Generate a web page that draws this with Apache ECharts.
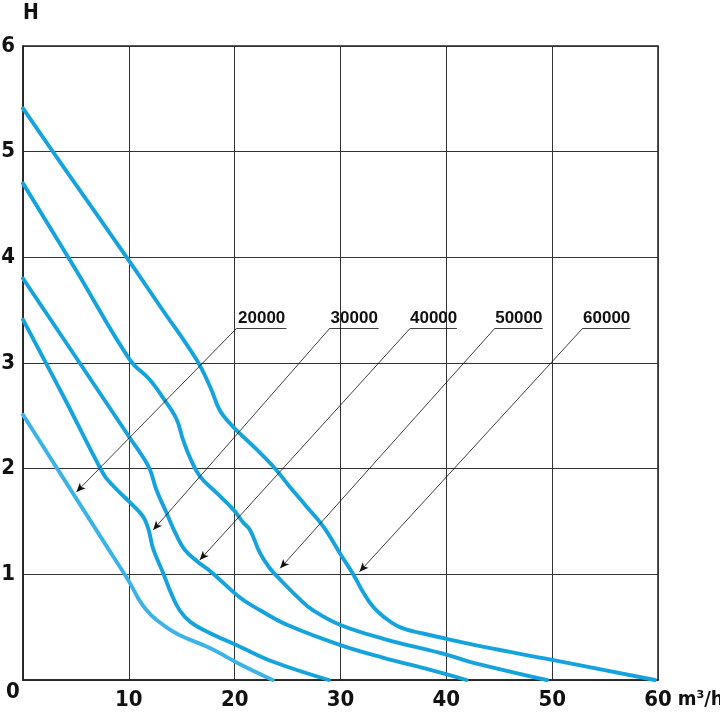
<!DOCTYPE html>
<html><head><meta charset="utf-8">
<script src="https://cdn.jsdelivr.net/npm/echarts@6/dist/echarts.min.js"></script>
<style>html,body{margin:0;padding:0;background:#fff}#c{width:720px;height:712px}</style>
</head><body><div id="c"></div>
<script>
// Axis ranges / ticks
const qMin = 0, qMax = 60, qStep = 10;
const hMin = 0, hMax = 6, hStep = 1;
const qUnit = 'm³/h';
const hName = 'H';

// Curve names
const curveNames = ['20000', '30000', '40000', '50000', '60000'];

// Curves: [Q (m³/h), H]
const curve20000 = [[0,2.51],[4,1.88],[8,1.25],[9.6,1.0],[10.2,0.9],[10.9,0.77],[11.6,0.67],[12.6,0.57],[14.5,0.44],[17.7,0.30],[20.5,0.15],[23.6,0]];
const curve30000 = [[0,3.41],[4,2.65],[7.6,1.95],[8.4,1.85],[9.3,1.76],[10.1,1.68],[11.0,1.59],[11.5,1.52],[11.9,1.41],[12.3,1.24],[13.25,1.01],[14.0,0.82],[14.8,0.66],[15.8,0.55],[17.35,0.46],[20.5,0.315],[23.7,0.17],[28.9,0]];
const curve40000 = [[0,3.80],[5.36,3.0],[10.1,2.29],[11.2,2.13],[12.0,1.99],[12.6,1.80],[13.57,1.58],[14.5,1.37],[15.3,1.23],[16.5,1.12],[17.7,1.03],[20.5,0.78],[22.4,0.66],[25,0.52],[30,0.33],[34.06,0.21],[38.5,0.095],[41.9,0]];
const curve50000 = [[0,4.70],[5,3.88],[10.1,3.03],[12.0,2.84],[13.3,2.66],[14.5,2.47],[15.1,2.28],[15.8,2.1],[16.7,1.93],[18.3,1.77],[19.9,1.61],[20.8,1.49],[21.45,1.42],[22.4,1.20],[23.3,1.06],[24.3,0.95],[26.2,0.76],[27.4,0.66],[30.0,0.52],[34.06,0.39],[40.0,0.24],[42.3,0.17],[49.5,0]];
const curve60000 = [[0,5.41],[4,4.83],[9.8,4.0],[13,3.53],[16.4,3.03],[17.7,2.77],[18.6,2.55],[19.55,2.43],[20.3,2.35],[22.1,2.18],[23.65,2.02],[25.2,1.83],[26.8,1.64],[28.4,1.45],[30.0,1.19],[31.2,1.0],[32.2,0.82],[33.1,0.69],[34.06,0.60],[35.6,0.50],[37.8,0.44],[40.0,0.39],[43.2,0.32],[50,0.19],[59.7,0]];
const curves = [curve20000, curve30000, curve40000, curve50000, curve60000];

// Callout labels (data coords)
const labelLeftQ  = [20.2, 29.0, 36.6, 44.6, 52.9];
const labelRightQ = [24.9, 33.6, 41.0, 49.1, 57.4];
const labelH = 3.33;
const arrowQ = [5.05, 12.3, 16.7, 24.3, 31.8];
const arrowH = [1.78, 1.42, 1.135, 1.057, 1.025];

const NARROW = "'Liberation Sans Narrow', 'DejaVu Sans Condensed', 'Arial Narrow', sans-serif";
const WIDE = "'Liberation Sans', Arial, sans-serif";
const colors = ['#3cb3e7', '#14a3dc', '#14a3dc', '#14a3dc', '#14a3dc'];

const chart = echarts.init(document.getElementById('c'), null, {renderer: 'canvas'});

const series = curves.map((pts, i) => ({
  type: 'line',
  name: curveNames[i],
  data: pts,
  showSymbol: false,
  smooth: 0.4,
  lineStyle: {width: 3.9, color: colors[i], cap: 'round', join: 'round'},
  z: 3,
  silent: true,
  markLine: {
    silent: true,
    symbol: ['none', 'none'],
    animation: false,
    lineStyle: {color: '#111', width: 0.8, type: 'solid'},
    emphasis: {disabled: true},
    data: [
      [
        {coord: [labelLeftQ[i], labelH], symbol: 'none', label: {show: false}},
        {coord: [arrowQ[i], arrowH[i]], symbol: 'arrow', symbolSize: [6, 9]}
      ],
      [
        {coord: [labelLeftQ[i], labelH], symbol: 'none',
         label: {show: true, formatter: curveNames[i], position: 'insideMiddleTop', distance: 1,
                 fontFamily: WIDE, fontWeight: 'bold', fontSize: 17, color: '#111'}},
        {coord: [labelRightQ[i], labelH], symbol: 'none'}
      ]
    ]
  }
}));

const axisText = {fontFamily: NARROW, fontWeight: 'bold', fontSize: 22, color: '#111'};

chart.setOption({
  animation: false,
  backgroundColor: '#fff',
  grid: {left: 23, top: 46, width: 635, height: 634, containLabel: false, outerBoundsMode: 'none',
         show: true, borderColor: '#222', borderWidth: 1.5, backgroundColor: 'transparent'},
  xAxis: {
    type: 'value', min: qMin, max: qMax, interval: qStep,
    axisLine: {show: true, lineStyle: {color: '#222', width: 1.5}},
    axisTick: {show: false},
    splitLine: {show: true, lineStyle: {color: '#333', width: 1}},
    axisLabel: Object.assign({margin: 9, formatter: v => v === 0 ? '' : String(v)}, axisText),
    name: qUnit, nameLocation: 'end', nameGap: 6,
    nameTextStyle: Object.assign({}, axisText, {fontSize: 20, align: 'left', verticalAlign: 'top', padding: [10, 0, 0, 0]})
  },
  yAxis: {
    type: 'value', min: hMin, max: hMax, interval: hStep,
    axisLine: {show: true, lineStyle: {color: '#222', width: 1.5}},
    axisTick: {show: false},
    splitLine: {show: true, lineStyle: {color: '#333', width: 1}},
    axisLabel: Object.assign({margin: 8, formatter: v => v === 0 ? '' : String(v)}, axisText),
    name: hName, nameLocation: 'end', nameGap: 32,
    nameTextStyle: Object.assign({}, axisText, {fontSize: 21, align: 'left', verticalAlign: 'middle'})
  },
  graphic: [{
    type: 'text', left: 6, top: 681,
    style: {text: String(qMin), font: "bold 22px " + NARROW, fill: '#111'}
  }],
  series: series
});
</script></body></html>
